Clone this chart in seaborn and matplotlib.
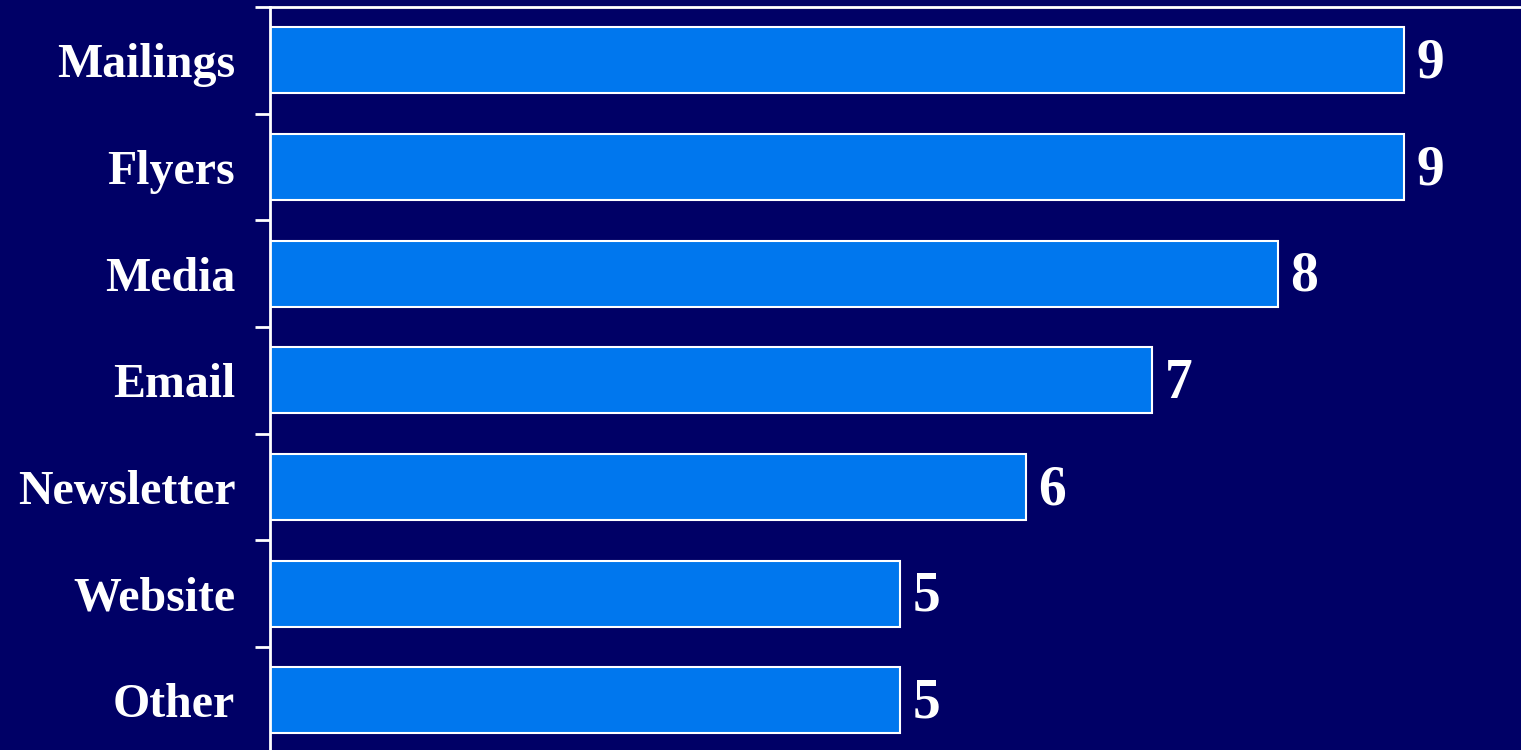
import pandas as pd
import numpy as np
import matplotlib.pyplot as plt
import seaborn as sns

# ===============================
# DATOS
# ===============================

categories = ["Mailings", "Flyers", "Media", "Email", "Newsletter", "Website", "Other"]
values = [9, 9, 8, 7, 6, 5, 5]

bg_color = "#000066"
bar_color = "#0077EE"

df = pd.DataFrame({"category": categories, "value": values})

# ===============================
# GRAFICO
# ===============================

sns.set_style("white")
plt.rcParams["font.family"] = ["Liberation Serif", "DejaVu Serif"]

fig = plt.figure(figsize=(15.21, 7.5), dpi=100)
fig.patch.set_facecolor(bg_color)

ax = fig.add_axes([270 / 1521, -3.7 / 750, 1 - 270 / 1521, 746.7 / 750])
ax.set_facecolor(bg_color)

sns.barplot(
    data=df,
    x="value",
    y="category",
    color=bar_color,
    edgecolor="white",
    linewidth=1.5,
    width=0.62,
    saturation=1,
    ax=ax
)

ax.set_xlim(0, 1251 / 126)
ax.set_ylim(len(categories) - 0.5, -0.5)

for i, v in enumerate(values):
    ax.text(v + 0.1, i + 0.03, str(v), color="white", fontsize=40, fontweight="bold",
            va="center", ha="left")

# ejes
for side in ["right", "bottom"]:
    ax.spines[side].set_visible(False)
ax.spines["left"].set_color("white")
ax.spines["left"].set_linewidth(2)
ax.spines["top"].set_color("white")
ax.spines["top"].set_linewidth(2)

ax.set_xticks([])
ax.set_yticks(np.arange(len(categories)))
ax.set_yticklabels(categories, fontsize=34.5, fontweight="bold", color="white")
ax.set_yticks(np.arange(-0.5, len(categories), 1), minor=True)
ax.tick_params(axis="y", which="major", length=0, pad=25)
ax.tick_params(axis="y", which="minor", length=11, width=2, color="white", left=True)

ax.set_xlabel("")
ax.set_ylabel("")

plt.savefig("out.png", dpi=100, facecolor=bg_color)
